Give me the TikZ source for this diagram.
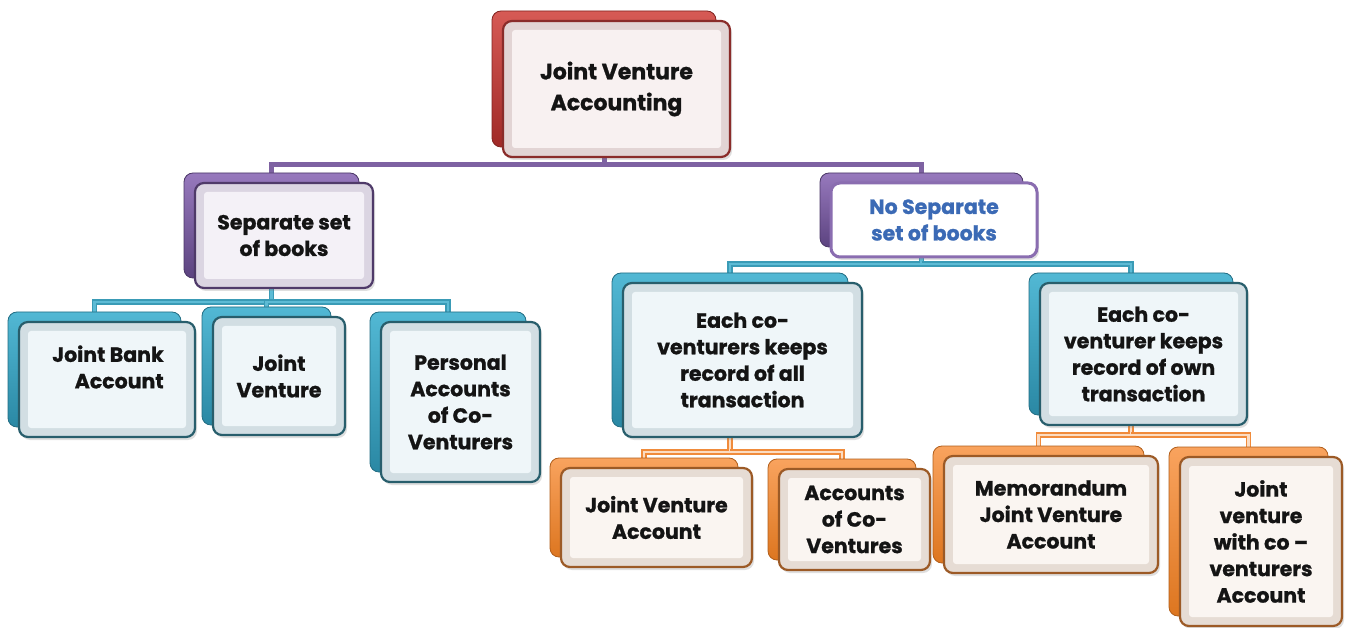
\documentclass[tikz,border=0pt]{standalone}
\usepackage{fontspec}
\setmainfont{Poppins}[BoldFeatures={FakeBold=1.1}]
\usetikzlibrary{shadows}

\pgfdeclarelayer{bg}
\pgfsetlayers{bg,main}

% colour schemes: hi/lo for the back plate gradient, edge/fill/bevel for the front card
\definecolor{redhi}{HTML}{D65A55}   \definecolor{redlo}{HTML}{A02A27}
\definecolor{rededge}{HTML}{8A2C2A} \definecolor{redfill}{HTML}{F8F1F1} \definecolor{redbevel}{HTML}{E2D4D4}
\definecolor{purphi}{HTML}{9779BD}  \definecolor{purplo}{HTML}{5C4380}
\definecolor{purpedge}{HTML}{4F3A69}\definecolor{purpfill}{HTML}{F4F1F7}\definecolor{purpbevel}{HTML}{DBD5E2}
\definecolor{tealhi}{HTML}{52B8D4}  \definecolor{teallo}{HTML}{2A88A4}
\definecolor{tealedge}{HTML}{285E6C}\definecolor{tealfill}{HTML}{EFF6F9}\definecolor{tealbevel}{HTML}{D2DEE3}
\definecolor{orhi}{HTML}{F9A35E}    \definecolor{orlo}{HTML}{DD7620}
\definecolor{oredge}{HTML}{9C5A26}  \definecolor{orfill}{HTML}{FAF5F1}  \definecolor{orbevel}{HTML}{E6DCD4}
\definecolor{nosepedge}{HTML}{8A6DB0}
\definecolor{noseptext}{HTML}{3B6AB5}
\definecolor{purpline}{HTML}{7E62A2}
\definecolor{tealline}{HTML}{3A9BB6} \definecolor{teallinein}{HTML}{5DBBD5}
\definecolor{orline}{HTML}{F08B3B}   \definecolor{orlinein}{HTML}{FBDCC2}

\newcommand\jvfont{\fontsize{20.5}{26.5}\selectfont\bfseries}
\newcommand\jvtopfont{\fontsize{22}{31}\selectfont\bfseries}

\tikzset{
  boxback/.style={rounded corners=9pt, top color=#1hi, bottom color=#1lo,
    draw=#1lo!80!black, line width=0.8pt},
  boxfront/.style={rounded corners=9pt, fill=#1bevel, draw=#1edge, line width=2.2pt,
    drop shadow={shadow xshift=2pt, shadow yshift=-3pt, opacity=0.25},
    path picture={\fill[#1fill, rounded corners=3pt]
      ([shift={(9pt,-9pt)}]path picture bounding box.north west) rectangle
      ([shift={(-9pt,9pt)}]path picture bounding box.south east);},
    font=\jvfont, align=center, inner sep=0pt, text=black!92},
  purpconn/.style={draw=purpline, line width=5pt},
  tealconn/.style={draw=tealline, double=teallinein, line width=1.5pt, double distance=2.8pt},
  orconn/.style={draw=orline, double=orlinein, line width=1.6pt, double distance=2.6pt},
}

% a card: back plate (name+b) and front card (name)
% #1 name, #2 scheme, #3-#6 front card corners x1,y1,x2,y2, #7 extra options, #8 text
\newcommand\jvbox[8]{%
  \node[boxback=#2, minimum width={(#5-#3-3)*1pt}, minimum height={(#6-#4)*1pt}]
    (#1b) at ({(#3+#5)/2-12.5},{(#4+#6)/2-10}) {};
  \node[boxfront=#2, minimum width={(#5-#3)*1pt}, minimum height={(#6-#4)*1pt}, #7]
    (#1) at ({(#3+#5)/2},{(#4+#6)/2}) {#8};}

\begin{document}
\begin{tikzpicture}[x=1pt, y=-1pt]
\useasboundingbox (0,0) rectangle (1350,628);

\jvbox{top}{red}{503}{21}{730}{157}{font=\jvtopfont}{Joint Venture\\Accounting}
\jvbox{sep}{purp}{195}{183}{373}{288}{}{Separate set\\of books}
\jvbox{nosep}{purp}{831}{183}{1037}{257}{fill=white, draw=nosepedge, line width=3pt,
  path picture={}, text=noseptext}{No Separate\\set of books}

\jvbox{jba}{teal}{19}{322}{195}{437}{}{}
\node[font=\jvfont, align=right, text=black!92] (jbat) at (108,367) {Joint Bank\\Account};
\jvbox{jv}{teal}{213}{317}{345}{435}{}{Joint\\Venture}
\jvbox{pa}{teal}{381}{322}{540}{482}{}{Personal\\Accounts\\of Co-\\Venturers}

\jvbox{eall}{teal}{623}{283}{862}{437}{}{Each co-\\venturers keeps\\record of all\\transaction}
\jvbox{eown}{teal}{1040}{283}{1247}{425}{}{Each co-\\venturer keeps\\record of own\\transaction}

\jvbox{jva}{or}{561}{468}{752}{567}{}{Joint Venture\\Account}
\jvbox{acv}{or}{779}{469}{930}{570}{}{Accounts\\of Co-\\Ventures}
\jvbox{mem}{or}{944}{456}{1158}{573}{}{Memorandum\\Joint Venture\\Account}
\jvbox{jvc}{or}{1180}{457}{1342}{626}{}{Joint\\venture\\with co –\\venturers\\Account}

% bus levels
\coordinate (bus1) at (0,165);
\coordinate (bus2) at (0,302);
\coordinate (bus3) at (0,264);
\coordinate (bus4) at (0,452);
\coordinate (bus5) at (0,435);

\begin{pgfonlayer}{bg}
  \draw[purpconn] (topb.south) -- (topb.south |- bus1) -| (sepb.north);
  \draw[purpconn] (topb.south |- bus1) -| (nosepb.north);

  \draw[tealconn] (sepb.south) -- (sepb.south |- bus2) -| (jbab.north);
  \draw[tealconn] (sepb.south |- bus2) -| (jvb.north);
  \draw[tealconn] (sepb.south |- bus2) -| (pab.north);

  \draw[tealconn] (nosepb.south) -- (nosepb.south |- bus3) -| (eallb.north);
  \draw[tealconn] (nosepb.south |- bus3) -| (eownb.north);

  \draw[orconn] (eallb.south) -- (eallb.south |- bus4) -| (jvab.north);
  \draw[orconn] (eallb.south |- bus4) -| (acvb.north);

  \draw[orconn] (eownb.south) -- (eownb.south |- bus5) -| (memb.north);
  \draw[orconn] (eownb.south |- bus5) -| (jvcb.north);
\end{pgfonlayer}
\end{tikzpicture}
\end{document}
